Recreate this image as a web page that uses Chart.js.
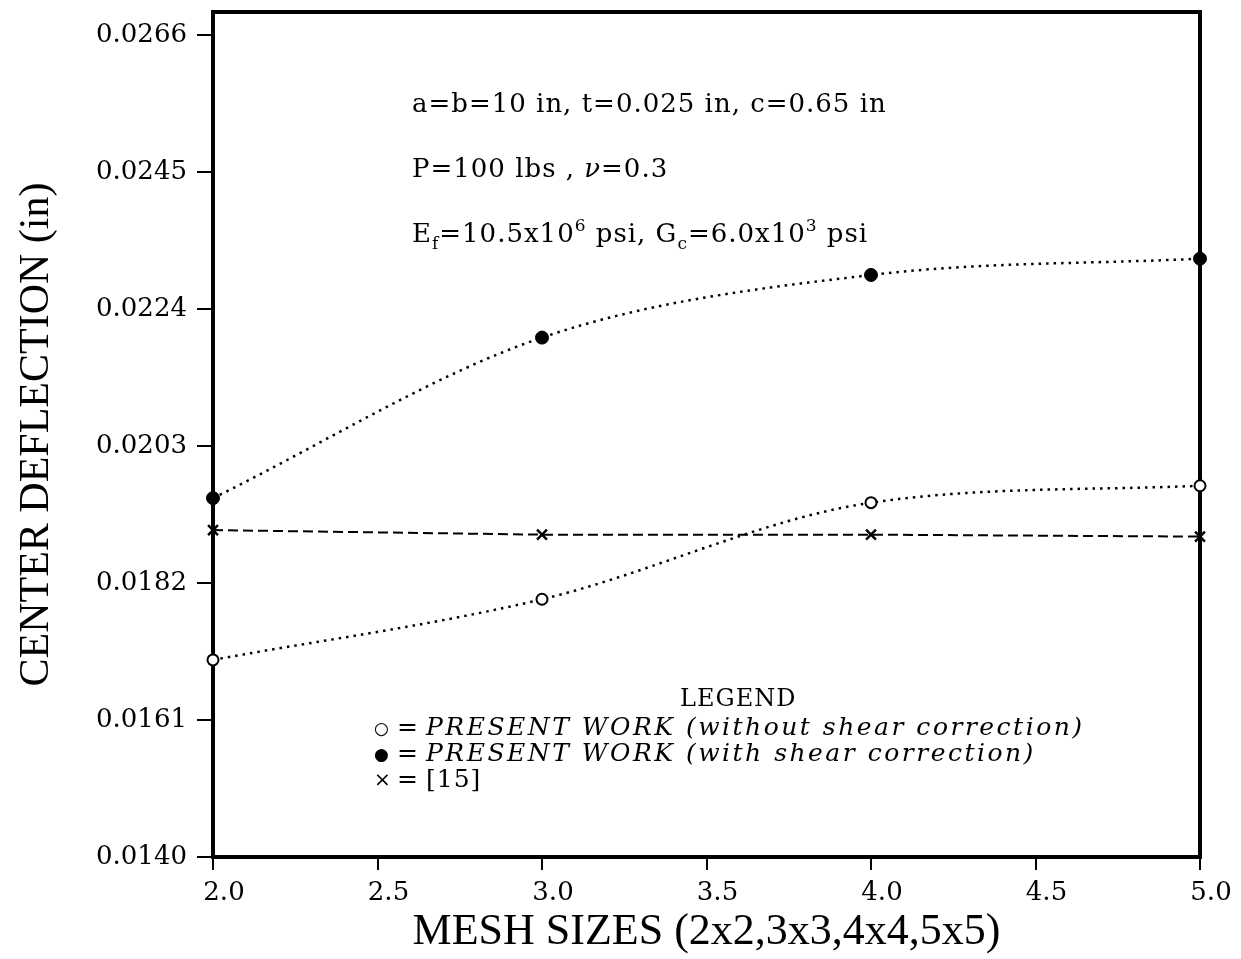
<!DOCTYPE html>
<html>
<head>
<meta charset="utf-8">
<title>Center deflection vs mesh size</title>
<script src="https://cdn.jsdelivr.net/npm/chart.js@4.4.1/dist/chart.umd.min.js"></script>
<style>
    html, body { margin: 0; padding: 0; background: #fff; }
    #deflectionChart { display: block; }
</style>
</head>
<body>
<canvas id="deflectionChart" width="1241" height="959"></canvas>
<script>
// mesh sizes (2x2 .. 5x5) and center deflection in inches
const meshSizes = [2, 3, 4, 5];
const withoutShear = [0.01702, 0.01795, 0.01943, 0.01969];
const withShear = [0.01950, 0.02196, 0.02292, 0.02317];
const ref15 = [0.01901, 0.01894, 0.01894, 0.01891];

const xTicks = [2.0, 2.5, 3.0, 3.5, 4.0, 4.5, 5.0];
const yTicks = [0.0140, 0.0161, 0.0182, 0.0203, 0.0224, 0.0245, 0.0266];

const toPoints = (ys) => meshSizes.map((x, i) => ({ x: x, y: ys[i] }));

const tickFont = { family: "DejaVu Serif", size: 26 };
const titleFamily = "Liberation Serif";

// draws a sequence of text pieces (for sub/superscripts) left to right
function drawRuns(ctx, x, y, runs, spacing) {
    ctx.letterSpacing = (spacing || 0) + "px";
    runs.forEach(r => {
        ctx.font = r.font;
        ctx.fillText(r.text, x, y + (r.dy || 0));
        x += ctx.measureText(r.text).width;
    });
    ctx.letterSpacing = "0px";
}

const frameAndNotes = {
    id: "frameAndNotes",
    beforeDatasetsDraw(chart) {
        const { ctx, chartArea: a } = chart;
        ctx.save();
        ctx.strokeStyle = "#000";
        ctx.lineWidth = 4;
        ctx.strokeRect(a.left, a.top, a.right - a.left, a.bottom - a.top);
        ctx.restore();
    },
    afterDraw(chart) {
        const { ctx, chartArea: a } = chart;
        const reg = '26px "DejaVu Serif"';
        const small = '17px "DejaVu Serif"';
        const ital = 'italic 26px "DejaVu Serif"';
        ctx.save();
        ctx.fillStyle = "#000";
        ctx.textBaseline = "alphabetic";
        ctx.textAlign = "left";

        // plate parameters
        const nx = a.left + 199;
        drawRuns(ctx, nx, a.top + 100, [{ text: "a=b=10 in, t=0.025 in, c=0.65 in", font: reg }], 1);
        drawRuns(ctx, nx, a.top + 165, [
            { text: "P=100 lbs , ", font: reg },
            { text: "\u03BD", font: ital },
            { text: "=0.3", font: reg }
        ], 1);
        drawRuns(ctx, nx, a.top + 230, [
            { text: "E", font: reg },
            { text: "f", font: small, dy: 7 },
            { text: "=10.5x10", font: reg },
            { text: "6", font: small, dy: -11 },
            { text: " psi, G", font: reg },
            { text: "c", font: small, dy: 7 },
            { text: "=6.0x10", font: reg },
            { text: "3", font: small, dy: -11 },
            { text: " psi", font: reg }
        ], 1);

        // legend block
        const legFont = '25px "DejaVu Serif"';
        const legItal = 'italic 25px "DejaVu Serif"';
        const symX = a.left + 161;
        const eqX = a.left + 184;
        const txtX = a.left + 213;
        drawRuns(ctx, a.left + 467, a.top + 694, [{ text: "LEGEND", font: '24px "DejaVu Serif"' }], 1);

        const rows = [
            { sym: "\u25CB", symFont: '17px "DejaVu Sans"', text: "PRESENT WORK (without shear correction)", font: legItal },
            { sym: "\u25CF", symFont: '17px "DejaVu Sans"', text: "PRESENT WORK (with shear correction)", font: legItal },
            { sym: "\u00D7", symFont: '20px "DejaVu Sans"', text: "[15]", font: legFont }
        ];
        rows.forEach((r, i) => {
            const y = a.top + 723 + i * 26;
            drawRuns(ctx, symX, y - 1, [{ text: r.sym, font: r.symFont }]);
            drawRuns(ctx, eqX, y, [{ text: "=", font: legFont }]);
            drawRuns(ctx, txtX, y, [{ text: r.text, font: r.font }], i < 2 ? 2.5 : 1);
        });
        ctx.restore();
    }
};

const ctx = document.getElementById("deflectionChart").getContext("2d");

const chart = new Chart(ctx, {
    type: "line",
    data: {
        datasets: [{
            label: "PRESENT WORK (without shear correction)",
            data: toPoints(withoutShear),
            borderColor: "#000",
            borderWidth: 2.5,
            borderDash: [2.5, 5],
            cubicInterpolationMode: "monotone",
            pointStyle: "circle",
            pointRadius: 5.5,
            pointBorderWidth: 2,
            pointBorderColor: "#000",
            pointBackgroundColor: "#fff",
            clip: false
        }, {
            label: "PRESENT WORK (with shear correction)",
            data: toPoints(withShear),
            borderColor: "#000",
            borderWidth: 2.5,
            borderDash: [2.5, 5],
            cubicInterpolationMode: "monotone",
            pointStyle: "circle",
            pointRadius: 6.5,
            pointBorderWidth: 1,
            pointBorderColor: "#000",
            pointBackgroundColor: "#000",
            clip: false
        }, {
            label: "[15]",
            data: toPoints(ref15),
            borderColor: "#000",
            borderWidth: 2,
            borderDash: [10, 5],
            tension: 0,
            pointStyle: "crossRot",
            pointRadius: 7,
            pointBorderWidth: 2.5,
            pointBorderColor: "#000",
            clip: false
        }]
    },
    options: {
        responsive: false,
        animation: false,
        events: [],
        layout: { padding: { left: 0, top: 12, right: 41, bottom: 0 } },
        plugins: {
            legend: { display: false },
            tooltip: { enabled: false }
        },
        scales: {
            x: {
                type: "linear",
                min: 2,
                max: 5,
                afterBuildTicks: (scale) => { scale.ticks = xTicks.map(v => ({ value: v })); },
                afterFit: (scale) => { scale.height = 102; },
                border: { display: false },
                grid: { drawOnChartArea: false, drawTicks: true, tickLength: 13, color: "#000", lineWidth: 2 },
                ticks: {
                    color: "#000",
                    font: tickFont,
                    padding: 8,
                    labelOffset: 11,
                    maxRotation: 0,
                    callback: (v) => Number(v).toFixed(1)
                },
                title: {
                    display: true,
                    text: "MESH SIZES (2x2,3x3,4x4,5x5)",
                    color: "#000",
                    font: { family: titleFamily, size: 44 },
                    padding: { top: 0, bottom: 0 }
                }
            },
            y: {
                min: 0.0140,
                max: 0.02695,
                afterBuildTicks: (scale) => { scale.ticks = yTicks.map(v => ({ value: v })); },
                afterFit: (scale) => {
                    scale.width = 213;
                    scale.paddingTop = 0;
                    scale.paddingBottom = 0;
                },
                border: { display: false },
                grid: { drawOnChartArea: false, drawTicks: true, tickLength: 16, color: "#000", lineWidth: 2 },
                ticks: {
                    color: "#000",
                    font: tickFont,
                    padding: 10,
                    callback: (v) => Number(v).toFixed(4)
                },
                title: {
                    display: true,
                    text: "CENTER DEFLECTION (in)",
                    color: "#000",
                    font: { family: titleFamily, size: 42 },
                    padding: { top: 12, bottom: 0 }
                }
            }
        }
    },
    plugins: [frameAndNotes]
});
</script>
</body>
</html>
